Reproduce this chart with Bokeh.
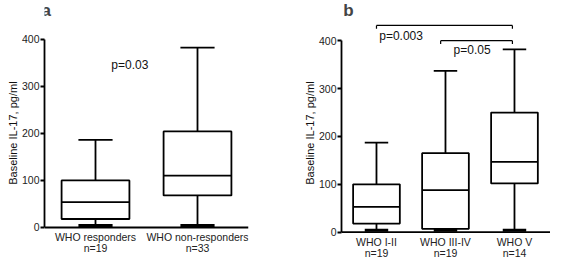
from bokeh.plotting import figure
from bokeh.layouts import row
from bokeh.models import Range1d, FixedTicker, Label, Title, Span
from bokeh.core.properties import value
from bokeh.embed import file_html
from bokeh.resources import INLINE

# ---------------- data ----------------
# panel a
a_groups = ["WHO responders", "WHO non-responders"]
a_n = [19, 33]
a_x = [1, 3]
a_min = [4, 4]
a_q1 = [18, 68]
a_med = [54, 110]
a_q3 = [100, 204]
a_max = [186, 382]
a_p = "p=0.03"

# panel b
b_groups = ["WHO I-II", "WHO III-IV", "WHO V"]
b_n = [19, 19, 14]
b_x = [1, 2, 3]
b_min = [4, 4, 4]
b_q1 = [18, 7, 102]
b_med = [53, 88, 147]
b_q3 = [100, 165, 250]
b_max = [187, 337, 382]
b_brackets_x0 = [1.0, 1.93]
b_brackets_x1 = [2.97, 2.97]
b_brackets_y = [432, 400]
b_p_labels = ["p=0.003", "p=0.05"]

y_ticks = [0, 100, 200, 300, 400]
y_title = "Baseline  IL-17,  pg/ml"
FONT = "Liberation Sans"
LW = 1.8


def style(p, xs, groups, ns, title_offset, y1, y2):
    p.xgrid.visible = False
    p.ygrid.visible = False
    p.outline_line_color = None
    p.background_fill_color = "white"
    p.border_fill_color = "white"
    p.xaxis.visible = False
    # x axis line at y = 0
    p.add_layout(Span(location=0, dimension="width", line_color="black", line_width=LW))
    ax = p.yaxis
    ax.axis_line_width = LW
    ax.axis_line_color = "black"
    ax.major_label_text_font = FONT
    ax.major_label_text_font_size = "10.5px"
    ax.major_label_text_color = "#222222"
    ax.minor_tick_line_color = None
    ax.ticker = FixedTicker(ticks=y_ticks)
    ax.bounds = (0, 400)
    ax.major_tick_out = 4
    ax.major_tick_in = 0
    ax.major_tick_line_width = LW
    ax.major_label_standoff = 1
    # two-line category labels under the boxes
    p.text(x=xs, y=[y1] * len(xs), text=groups, text_font=value(FONT),
           text_font_size="10.5px", text_color="#222222", text_align="center",
           text_baseline="middle")
    p.text(x=xs, y=[y2] * len(xs), text=[f"n={n}" for n in ns], text_font=value(FONT),
           text_font_size="10.5px", text_color="#222222", text_align="center",
           text_baseline="middle")
    # y-axis title, centred on the 0-400 part of the axis
    p.add_layout(Title(text=y_title, align="center", offset=title_offset,
                       text_font=FONT, text_font_size="11px",
                       text_font_style="normal", text_color="#111111",
                       standoff=0), "left")


def boxes(p, xs, mins, q1, med, q3, maxs, bw, cw):
    p.segment(x0=xs, y0=q3, x1=xs, y1=maxs, line_color="black", line_width=LW)
    p.segment(x0=xs, y0=mins, x1=xs, y1=q1, line_color="black", line_width=LW)
    p.vbar(x=xs, width=bw, bottom=q1, top=q3, fill_color="white",
           line_color="black", line_width=LW)
    p.segment(x0=[x - bw / 2 for x in xs], y0=med, x1=[x + bw / 2 for x in xs], y1=med,
              line_color="black", line_width=LW)
    p.segment(x0=[x - cw / 2 for x in xs], y0=maxs, x1=[x + cw / 2 for x in xs], y1=maxs,
              line_color="black", line_width=LW)
    p.segment(x0=[x - cw / 2 for x in xs], y0=mins, x1=[x + cw / 2 for x in xs], y1=mins,
              line_color="black", line_width=3)


# ---------------- panel a ----------------
pa = figure(frame_width=204, frame_height=259, output_backend="svg",
            toolbar_location=None, x_range=Range1d(0, 4), y_range=Range1d(-68, 482),
            min_border_left=44, min_border_right=34, min_border_top=0,
            min_border_bottom=0)
style(pa, a_x, a_groups, a_n, -3, -20, -44)
boxes(pa, a_x, a_min, a_q1, a_med, a_q3, a_max, 1.33, 0.67)
pa.text(x=[1.31], y=[346], text=[a_p], text_font=value(FONT), text_font_size="12px",
        text_baseline="middle", text_align="left", text_color="#111111")
pa.add_layout(Label(x=-0.06, y=482, text="a", text_font=FONT, text_font_size="17px",
                    text_font_style="bold", text_baseline="top", text_align="left"))

# ---------------- panel b ----------------
pb = figure(frame_width=209, frame_height=259, output_backend="svg",
            toolbar_location=None, x_range=Range1d(0.493, 3.522), y_range=Range1d(-57, 484),
            min_border_left=59, min_border_right=0, min_border_top=0,
            min_border_bottom=0)
style(pb, b_x, b_groups, b_n, -5, -21, -43)
boxes(pb, b_x, b_min, b_q1, b_med, b_q3, b_max, 0.677, 0.34)
# significance brackets
tick_len = 7
pb.segment(x0=b_brackets_x0, y0=b_brackets_y, x1=b_brackets_x1, y1=b_brackets_y,
           line_color="black", line_width=1.2)
pb.segment(x0=b_brackets_x0, y0=b_brackets_y, x1=b_brackets_x0,
           y1=[y - tick_len for y in b_brackets_y], line_color="black", line_width=1.2)
pb.segment(x0=b_brackets_x1, y0=b_brackets_y, x1=b_brackets_x1,
           y1=[y - tick_len for y in b_brackets_y], line_color="black", line_width=1.2)
pb.text(x=[1.04, 2.117], y=[410, 380], text=b_p_labels, text_font=value(FONT),
        text_font_size="12px", text_baseline="middle", text_align="left",
        text_color="#111111")
pb.add_layout(Label(x=0.52, y=484, text="b", text_font=FONT, text_font_size="17px",
                    text_font_style="bold", text_baseline="top", text_align="left"))

layout = row(pa, pb, spacing=0)
open("out.html", "w").write(file_html(layout, INLINE))
